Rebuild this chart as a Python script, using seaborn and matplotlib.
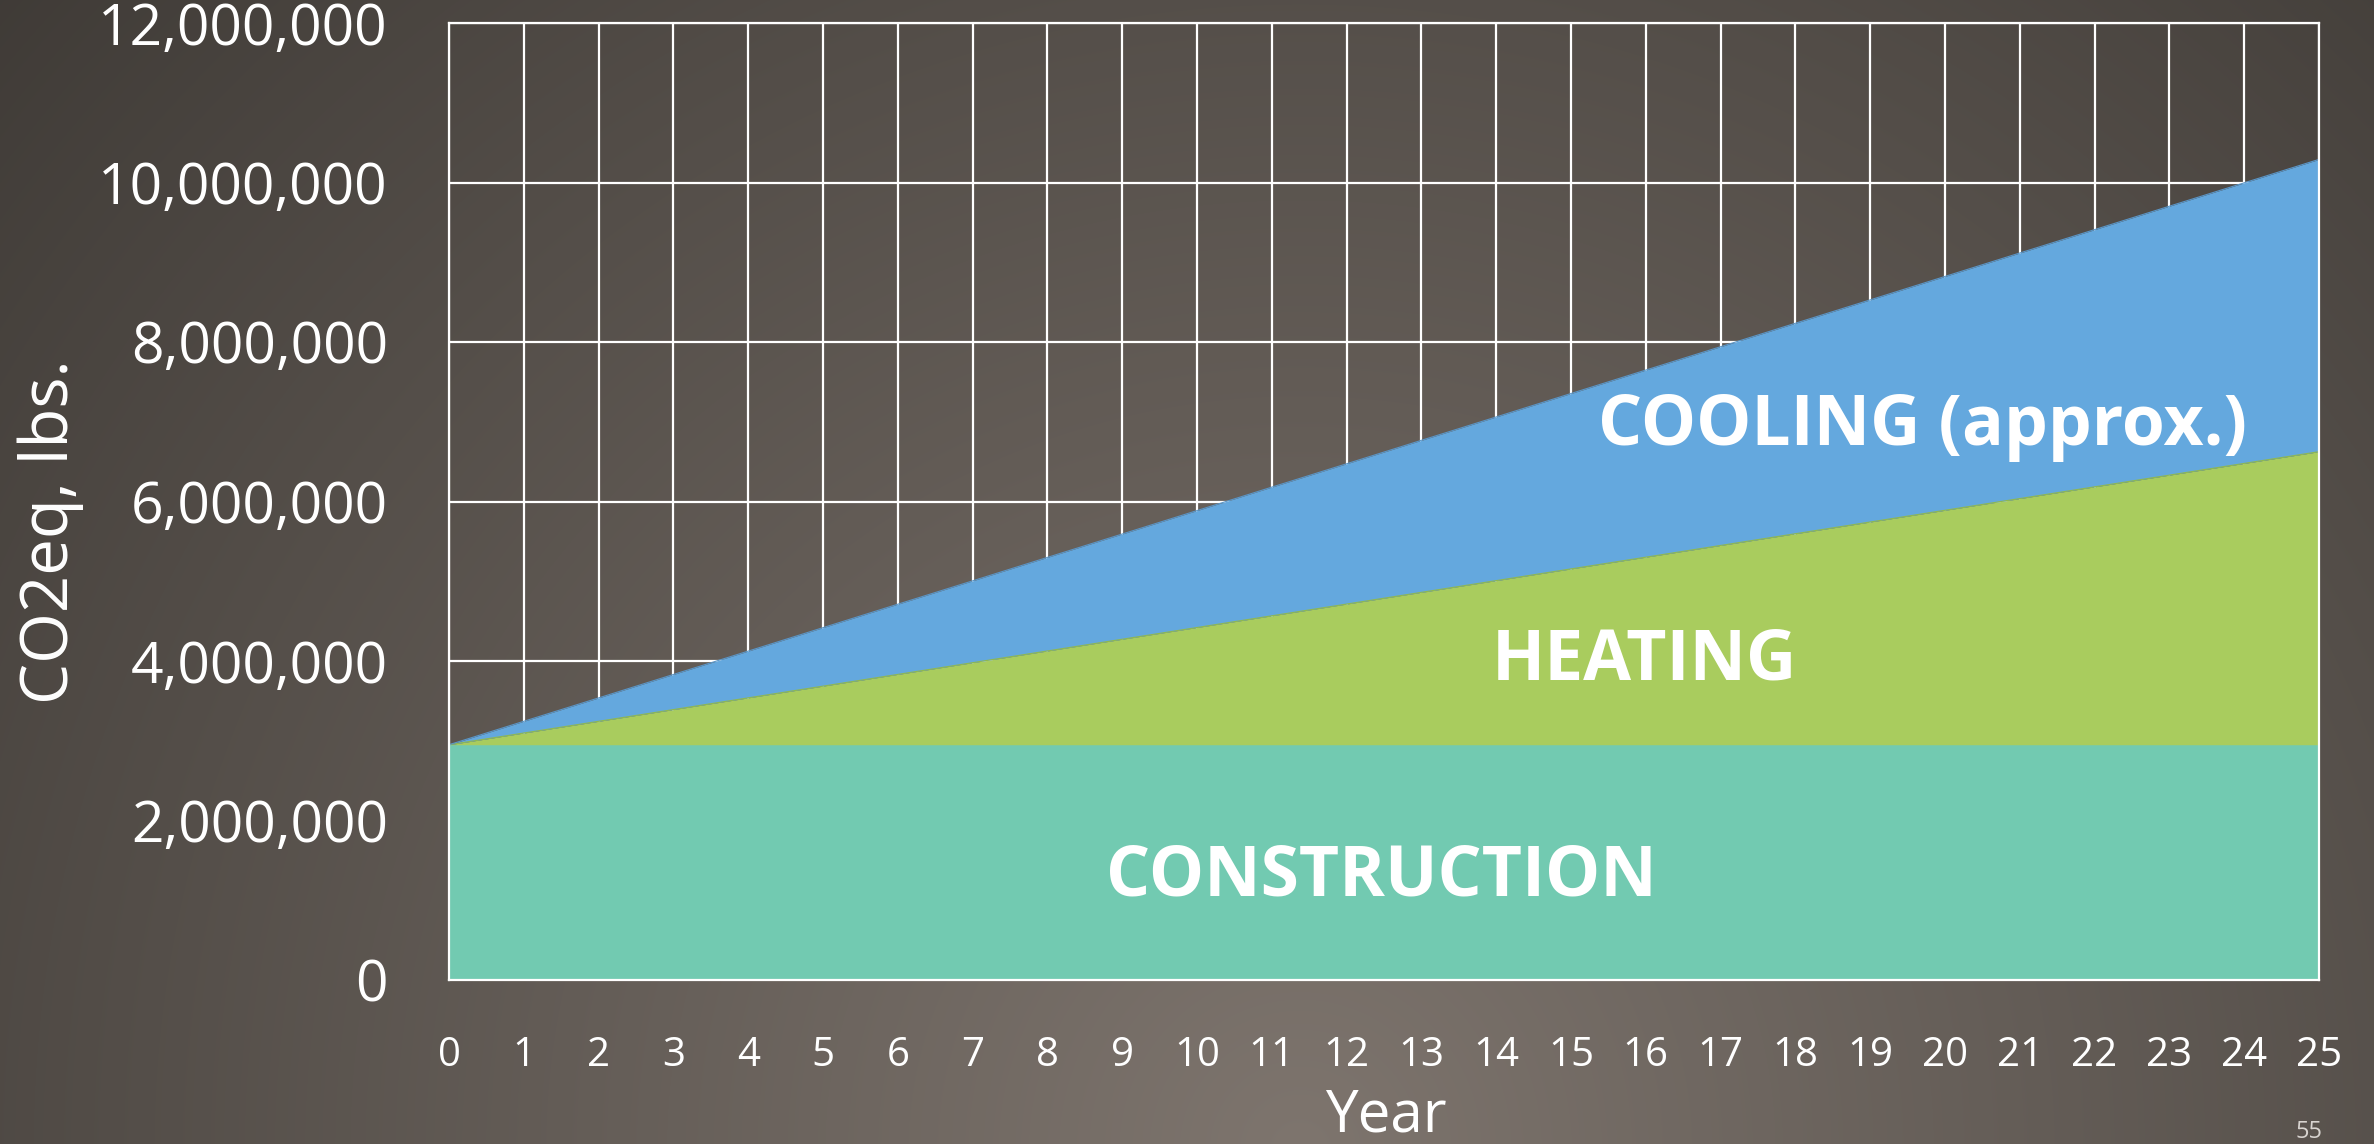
import numpy as np
import pandas as pd
import seaborn as sns
import matplotlib.pyplot as plt
from matplotlib.ticker import FuncFormatter

# cumulative CO2eq (lbs) per year
years = list(range(26))
construction = [2_950_000] * 26
heating = [0, 147_000, 294_000, 441_000, 588_000, 735_000, 882_000, 1_029_000,
           1_176_000, 1_323_000, 1_470_000, 1_617_000, 1_764_000, 1_911_000,
           2_058_000, 2_205_000, 2_352_000, 2_499_000, 2_646_000, 2_793_000,
           2_940_000, 3_087_000, 3_234_000, 3_381_000, 3_528_000, 3_675_000]
cooling = [0, 147_000, 293_000, 440_000, 586_000, 733_000, 880_000, 1_026_000,
           1_173_000, 1_319_000, 1_466_000, 1_613_000, 1_759_000, 1_906_000,
           2_052_000, 2_199_000, 2_346_000, 2_492_000, 2_639_000, 2_785_000,
           2_932_000, 3_079_000, 3_225_000, 3_372_000, 3_518_000, 3_665_000]
y_ticks = [0, 2_000_000, 4_000_000, 6_000_000, 8_000_000, 10_000_000, 12_000_000]

df = pd.DataFrame({"year": years, "construction": construction,
                   "heating": heating, "cooling": cooling})
df["heating_top"] = df["construction"] + df["heating"]
df["cooling_top"] = df["heating_top"] + df["cooling"]

COLORS = {"construction": "#72cab1", "heating": "#a9cc5e", "cooling": "#64a8de"}

sns.set_theme(style="ticks")
plt.rcParams["font.family"] = ["Open Sans", "DejaVu Sans"]

W, H = 2374, 1144
fig = plt.figure(figsize=(W / 100, H / 100), dpi=100)

# slide background: soft radial gradient
bg = fig.add_axes([0, 0, 1, 1], zorder=-10)
xx, yy = np.meshgrid(np.arange(W), np.arange(H))
t = np.clip(np.hypot(xx - 1300, yy - 1150) / 1900, 0, 1)[..., None]
light = np.array([126, 117, 110]) / 255
dark = np.array([58, 54, 50]) / 255
bg.imshow(light * (1 - t) + dark * t, aspect="auto", extent=[0, 1, 0, 1])
bg.set_axis_off()

ax = fig.add_axes([449 / W, 1 - 980 / H, 1870 / W, 957 / H])
ax.set_facecolor("none")

ax.fill_between(df["year"], 0, df["construction"], color=COLORS["construction"], lw=0)
ax.fill_between(df["year"], df["construction"], df["heating_top"], color=COLORS["heating"], lw=0)
ax.fill_between(df["year"], df["heating_top"], df["cooling_top"], color=COLORS["cooling"], lw=0)
sns.lineplot(data=df, x="year", y="heating_top", color="#8fb84f", lw=0.8, ax=ax)
sns.lineplot(data=df, x="year", y="cooling_top", color="#5a96c8", lw=0.8, ax=ax)

ax.set_xlim(0, 25)
ax.set_ylim(0, 12_000_000)
ax.set_xticks(years)
ax.set_yticks(y_ticks)
ax.yaxis.set_major_formatter(FuncFormatter(lambda v, _: f"{v:,.0f}"))
ax.set_axisbelow(True)
ax.grid(True, color="white", lw=1.6)
for s in ax.spines.values():
    s.set_color("white")
    s.set_linewidth(1.6)
ax.tick_params(axis="y", length=0, pad=44, labelsize=41, labelcolor="white")
ax.tick_params(axis="x", length=0, pad=40, labelsize=29, labelcolor="white")

ax.set_ylabel("CO2eq, lbs.", fontsize=47, color="white")
ax.yaxis.set_label_coords(-0.195, 0.468)
ax.set_xlabel("Year", fontsize=42, color="white", va="top")
ax.xaxis.set_label_coords(0.501, -0.112)

lab = dict(color="white", fontsize=50, fontweight="bold", ha="center", va="center")
ax.text(12.47, 1_280_000, "CONSTRUCTION", **lab)
ax.text(15.98, 3_990_000, "HEATING", **lab)
ax.text(19.7, 6_930_000, "COOLING (approx.)", **lab)

fig.text(2309 / W, 1 - 1120 / H, "55", color="#d8d4d0", fontsize=17,
         ha="center", va="top")

fig.savefig("out.png", dpi=100)
